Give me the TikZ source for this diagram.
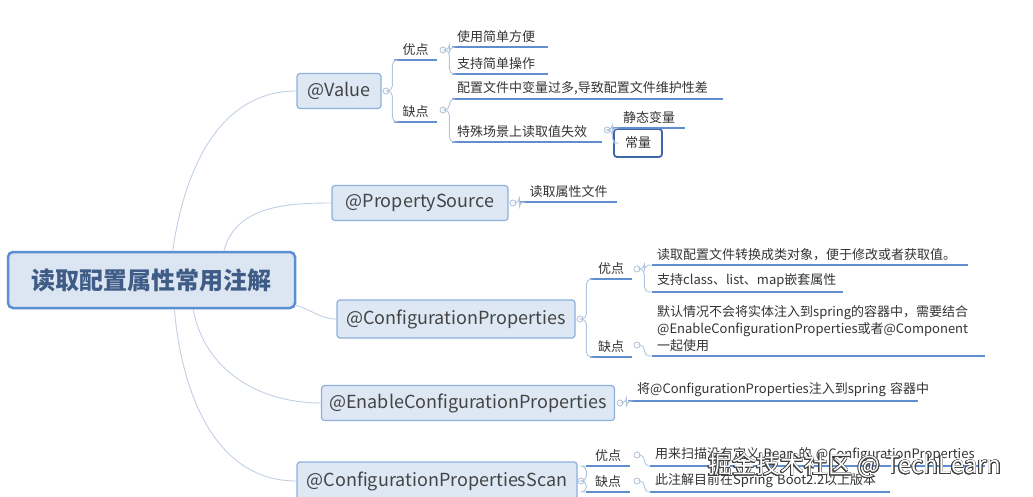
\documentclass[tikz,border=0pt]{standalone}
\usepackage{fontspec}
\setmainfont{Noto Sans CJK SC}
\usepackage{contour}
\contourlength{0.6pt}
\usetikzlibrary{calc}
\definecolor{l1fill}{HTML}{DDE8F4}
\definecolor{l1border}{HTML}{8DB0DC}
\definecolor{l1text}{HTML}{444444}
\definecolor{rootfill}{HTML}{DCE6F2}
\definecolor{rootborder}{HTML}{5B8FD3}
\definecolor{roottext}{HTML}{3E5C86}
\definecolor{ulcol}{HTML}{5F8FD0}
\definecolor{brcol}{HTML}{B3C6E0}
\definecolor{trunkcol}{HTML}{C2D0E3}
\definecolor{knobcol}{HTML}{AABBD3}
\definecolor{lbltext}{HTML}{333333}
\definecolor{boxsel}{HTML}{3F66A8}
\tikzset{
  rootbox/.style={draw=rootborder, line width=2.5pt, fill=rootfill, rounded corners=5pt,
    minimum width=287pt, minimum height=56pt, inner sep=0pt, text=roottext,
    font=\fontsize{24}{28}\selectfont\bfseries},
  topic/.style={draw=l1border, line width=1.2pt, fill=l1fill, rounded corners=3pt,
    inner sep=0pt, text=l1text, font=\fontsize{18}{20}\selectfont},
  lblc/.style={anchor=south west, inner xsep=0pt, inner ysep=4pt, text=lbltext,
    font=\fontsize{13}{15}\selectfont, minimum width=#1, align=center},
  lbll/.style={anchor=south west, inner xsep=5pt, inner ysep=4pt, text=lbltext,
    font=\fontsize{13}{17}\selectfont, text width=#1-10pt, align=left},
  uline/.style={draw=ulcol, line width=1.6pt},
  brk/.style={draw=brcol, line width=0.9pt, rounded corners=5pt},
  trunk/.style={draw=trunkcol, line width=0.9pt},
  knob/.style={circle, draw=knobcol, fill=white, line width=0.7pt, minimum size=6pt, inner sep=0pt},
  selbox/.style={draw=boxsel, line width=1.8pt, fill=white, rounded corners=3pt,
    minimum width=48pt, minimum height=28pt, inner sep=0pt, text=lbltext,
    font=\fontsize{13}{15}\selectfont},
}
\begin{document}
\begin{tikzpicture}[x=1pt,y=-1pt]
\useasboundingbox (0,0) rectangle (1033,497);
% root
\node[rootbox] (root) at (151.5,280) {读取配置属性常用注解};
% first level
\node[topic, minimum width=84pt, minimum height=35pt] (val) at (339,91) {@Value};
\node[topic, minimum width=176pt, minimum height=35pt] (ps) at (420,203) {@PropertySource};
\node[topic, minimum width=238pt, minimum height=38pt] (cp) at (456,319) {@ConfigurationProperties};
\node[topic, minimum width=293pt, minimum height=35pt] (ecp) at (468,403) {@EnableConfigurationProperties};
\node[topic, minimum width=280pt, minimum height=38pt] (cps) at (437,481) {@ConfigurationPropertiesScan};
% trunk connectors
\draw[trunk] (root.54) to[out=82,in=180] (val.west);
\draw[trunk] (root.22) to[out=75,in=180] (ps.west);
\draw[trunk] (root.-10) to[out=-15,in=180] (cp.west);
\draw[trunk] (root.-35) to[out=-80,in=180] (ecp.west);
\draw[trunk] (root.-52) to[out=-85,in=180] (cps.west);
% knobs of first level
\node[knob] (kval) at (386,91) {};
\node[knob] (kps) at (513,203) {};
\node[knob] (kcp) at (580,319) {};
\node[knob] (kecp) at (620,403) {};
\node[knob] (kcps) at (581,481) {};
% @Value branch
\node[lblc=43pt] (v1) at (394,60) {优点};
\node[lblc=43pt] (v2) at (394,122) {缺点};
\node[knob] (kv1) at (443,50) {};
\node[knob] (kv2) at (443,110) {};
\node[lbll=96pt] (va1) at (452,47) {使用简单方便};
\node[lbll=96pt] (va2) at (452,74) {支持简单操作};
\node[lbll=271pt] (vb1) at (452,99) {配置文件中变量过多,导致配置文件维护性差};
\node[lbll=150pt] (vb2) at (452,142) {特殊场景上读取值失效};
\node[knob] (kvb2) at (607,130) {};
\node[lblc=72pt] (vc1) at (613,128) {静态变量};
\node[selbox] (vc2) at (638,143) {常量};
% @PropertySource branch
\node[lblc=97pt] (p1) at (520,202) {读取属性文件};
% @ConfigurationProperties branch
\node[lblc=42pt] (c1) at (590,279) {优点};
\node[lblc=42pt] (c2) at (590,357) {缺点};
\node[knob] (kc1) at (637,269) {};
\node[knob] (kc2) at (637,345) {};
\node[lbll=316pt] (ca1) at (652,265) {读取配置文件转换成类对象，便于修改或者获取值。};
\node[lbll=191pt] (ca2) at (652,292) {支持class、list、map嵌套属性};
\node[lbll=333pt] (cb1) at (652,356) {默认情况不会将实体注入到spring的容器中，需要结合\\@EnableConfigurationProperties或者@Component\\一起使用};
% @EnableConfigurationProperties branch
\node[lbll=282pt, inner xsep=9pt] (e1) at (628,401) {\mbox{将@ConfigurationProperties注入到spring 容器中}};
% @ConfigurationPropertiesScan branch
\node[lblc=44pt] (s1) at (586,466) {优点};
\node[lblc=44pt] (s2) at (586,492) {缺点};
\node[knob] (ks1) at (637,455) {};
\node[knob] (ks2) at (637,481) {};
\node[lbll=335pt] (sa1) at (650,466) {用来扫描没有定义 Bean 的 @ConfigurationProperties};
\node[lbll=240pt] (sb1) at (650,492) {此注解目前在Spring Boot2.2以上版本};
% underlines
\foreach \n in {v1,v2,va1,va2,vb1,vb2,vc1,p1,c1,c2,ca1,ca2,cb1,e1,s1,s2,sa1,sb1}
  \draw[uline] (\n.south west) -- (\n.south east);
% brackets
\draw[brk] (kval.east) -- ++(3,0) |- (v1.south west);
\draw[brk] (kval.east) -- ++(3,0) |- (v2.south west);
\draw[brk] (kv1.east) -- ++(3,0) |- (va1.south west);
\draw[brk] (kv1.east) -- ++(3,0) |- (va2.south west);
\draw[brk] (kv2.east) -- ++(3,0) |- (vb1.south west);
\draw[brk] (kv2.east) -- ++(3,0) |- (vb2.south west);
\draw[brk] (kvb2.east) -- ++(2,0) |- (vc1.south west);
\draw[brk] (kvb2.east) -- ++(2,0) |- (vc2.west);
\draw[brk] (kps.east) -- ++(3,0) |- (p1.south west);
\draw[brk] (kcp.east) -- ++(3,0) |- (c1.south west);
\draw[brk] (kcp.east) -- ++(3,0) |- (c2.south west);
\draw[brk] (kc1.east) -- ++(4,0) |- (ca1.south west);
\draw[brk] (kc1.east) -- ++(4,0) |- (ca2.south west);
\draw[brk] (kc2.east) -- ++(4,0) |- (cb1.south west);
\draw[brk] (kecp.east) -- ++(3,0) |- (e1.south west);
\draw[brk] (kcps.east) -- ++(2,0) |- (s1.south west);
\draw[brk] (kcps.east) -- ++(2,0) |- (s2.south west);
\draw[brk] (ks1.east) -- ++(4,0) |- (sa1.south west);
\draw[brk] (ks2.east) -- ++(4,0) |- (sb1.south west);
% watermark
\node[anchor=west, inner sep=0pt, font=\fontsize{24}{28}\selectfont] (wm) at (708,466)
  {\contour{black!75}{\textcolor{white}{掘金技术社区 @ TechLearn}}};
\end{tikzpicture}
\end{document}
